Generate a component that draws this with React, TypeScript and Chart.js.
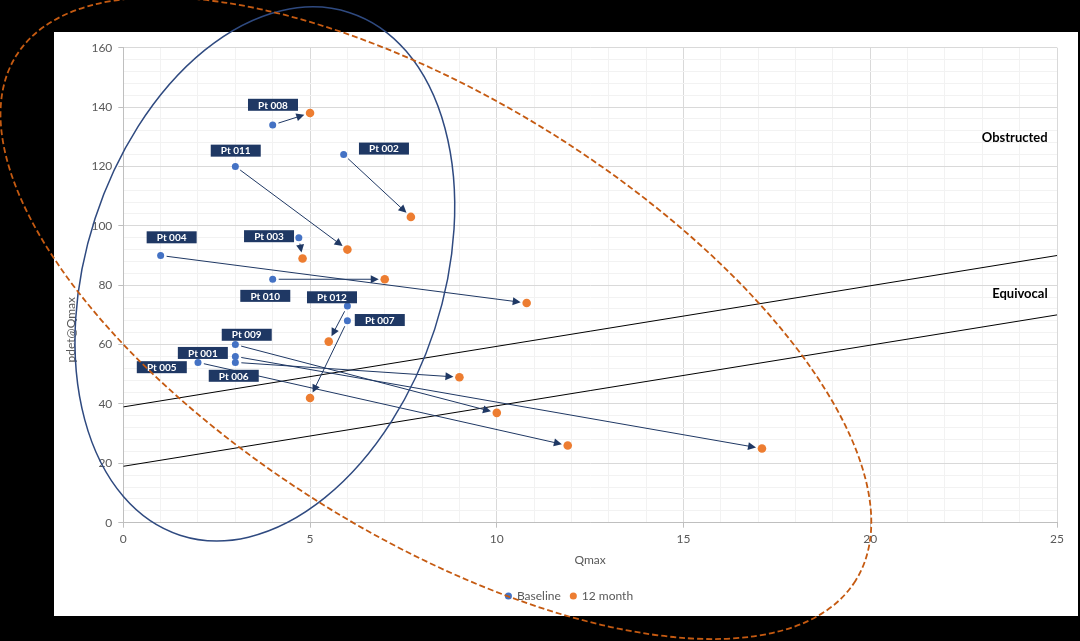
import React, { useEffect, useRef } from 'react';
import { Chart, registerables } from 'chart.js';

Chart.register(...registerables);

// ---------- data ----------
const patients = ['Pt 001', 'Pt 002', 'Pt 003', 'Pt 004', 'Pt 005', 'Pt 006', 'Pt 007', 'Pt 008', 'Pt 009', 'Pt 010', 'Pt 011', 'Pt 012'];
const baselineQmax = [3, 5.9, 4.7, 1, 2, 3, 6, 4, 3, 4, 3, 6];
const baselinePdet = [56, 124, 96, 90, 54, 54, 68, 134, 60, 82, 120, 73];
const month12Qmax = [17.1, 7.7, 4.8, 10.8, 11.9, 9, 5, 5, 10, 7, 6, 5.5];
const month12Pdet = [25, 103, 89, 74, 26, 49, 42, 138, 37, 82, 92, 61];

const obstructedLineQmax = [0, 25];
const obstructedLinePdet = [39, 90];
const equivocalLineQmax = [0, 25];
const equivocalLinePdet = [19, 70];

const zoneLabels = ['Obstructed', 'Equivocal'];
const zoneLabelQmax = [24.75, 24.75];
const zoneLabelPdet = [129.5, 77];

const seriesNames = ['Baseline', '12 month'];
const xAxisTitle = 'Qmax';
const yAxisTitle = 'pdet@Qmax';

// ---------- layout / style ----------
const W = 1080;
const H = 641;
const BLUE = '#4472C4';
const ORANGE = '#ED7D31';
const NAVY = '#1F3864';
const GREY_TEXT = '#595959';
const WHITE_RECT = { x: 54, y: 32, w: 1024, h: 584 };
// label box centre offsets (px) from each baseline point
const labelOffsets: [number, number][] = [
  [-32.5, -3.5], [40.3, -6], [-29.8, -1.5], [11, -18.2], [-36.2, 4.8], [-1.6, 13.4],
  [32.4, -0.8], [0.3, -20.1], [11.4, -9.8], [-7.4, 16.6], [0.4, -15.8], [-15.4, -8.7],
];

function drawArrow(ctx: CanvasRenderingContext2D, x1: number, y1: number, x2: number, y2: number) {
  const dx = x2 - x1;
  const dy = y2 - y1;
  const len = Math.hypot(dx, dy);
  const ux = dx / len;
  const uy = dy / len;
  const sx = x1 + ux * 6;
  const sy = y1 + uy * 6;
  const ex = x2 - ux * 6;
  const ey = y2 - uy * 6;
  const head = 8;
  const half = 4;
  const bx = ex - ux * head;
  const by = ey - uy * head;
  ctx.beginPath();
  ctx.moveTo(sx, sy);
  ctx.lineTo(bx + ux * 1, by + uy * 1);
  ctx.stroke();
  ctx.beginPath();
  ctx.moveTo(ex, ey);
  ctx.lineTo(bx - uy * half, by + ux * half);
  ctx.lineTo(bx + uy * half, by - ux * half);
  ctx.closePath();
  ctx.fill();
}

const annotationPlugin = {
  id: 'annotations',
  beforeDraw(chart: any) {
    const ctx = chart.ctx as CanvasRenderingContext2D;
    ctx.save();
    ctx.fillStyle = '#000000';
    ctx.fillRect(0, 0, W, H);
    ctx.fillStyle = '#FFFFFF';
    ctx.fillRect(WHITE_RECT.x, WHITE_RECT.y, WHITE_RECT.w, WHITE_RECT.h);
    ctx.restore();
  },
  afterLayout(chart: any) {
    if (chart.legend) {
      chart.legend.left += 14;
      chart.legend.right += 14;
    }
  },
  afterDatasetsDraw(chart: any) {
    const ctx = chart.ctx as CanvasRenderingContext2D;
    const xs = chart.scales.x;
    const ys = chart.scales.y;
    ctx.save();
    // arrows
    ctx.strokeStyle = NAVY;
    ctx.fillStyle = NAVY;
    ctx.lineWidth = 1;
    for (let i = 0; i < patients.length; i++) {
      drawArrow(
        ctx,
        xs.getPixelForValue(baselineQmax[i]), ys.getPixelForValue(baselinePdet[i]),
        xs.getPixelForValue(month12Qmax[i]), ys.getPixelForValue(month12Pdet[i]),
      );
    }
    // patient labels
    ctx.font = 'bold 10px Lato';
    ctx.textAlign = 'center';
    ctx.textBaseline = 'middle';
    for (let i = 0; i < patients.length; i++) {
      const cx = xs.getPixelForValue(baselineQmax[i]) + labelOffsets[i][0];
      const cy = ys.getPixelForValue(baselinePdet[i]) + labelOffsets[i][1];
      ctx.fillStyle = NAVY;
      ctx.fillRect(cx - 25, cy - 6, 50, 12);
      ctx.fillStyle = '#FFFFFF';
      ctx.fillText(patients[i], cx, cy + 0.5);
    }
    // zone labels
    ctx.font = 'bold 13px Lato';
    ctx.fillStyle = '#000000';
    ctx.textAlign = 'right';
    for (let i = 0; i < zoneLabels.length; i++) {
      ctx.fillText(zoneLabels[i], xs.getPixelForValue(zoneLabelQmax[i]), ys.getPixelForValue(zoneLabelPdet[i]));
    }
    ctx.restore();
  },
  afterDraw(chart: any) {
    const ctx = chart.ctx as CanvasRenderingContext2D;
    const xs = chart.scales.x;
    const ys = chart.scales.y;
    ctx.save();
    // y axis title
    ctx.font = '12px Lato';
    ctx.fillStyle = GREY_TEXT;
    ctx.textAlign = 'center';
    ctx.textBaseline = 'middle';
    ctx.translate(chart.chartArea.left - 52.3, ys.getPixelForValue(65));
    ctx.rotate(-Math.PI / 2);
    ctx.fillText(yAxisTitle, 0, 0);
    ctx.restore();

    ctx.save();
    // blue ellipse
    ctx.strokeStyle = '#2F4A80';
    ctx.lineWidth = 1.5;
    ctx.beginPath();
    ctx.ellipse(xs.getPixelForValue(3.79), ys.getPixelForValue(83.8), 178.6, 274.7, (18 * Math.PI) / 180, 0, Math.PI * 2);
    ctx.stroke();
    // orange dashed ellipse
    ctx.strokeStyle = '#C55A11';
    ctx.lineWidth = 1.8;
    ctx.setLineDash([6, 3]);
    ctx.beginPath();
    ctx.ellipse(xs.getPixelForValue(8.37), ys.getPixelForValue(68.9), 495, 218, (32 * Math.PI) / 180, 0, Math.PI * 2);
    ctx.stroke();
    ctx.restore();
  },
};

export default function App() {
  const ref = useRef<HTMLCanvasElement>(null);

  useEffect(() => {
    const canvas = ref.current;
    if (!canvas) return;
    Chart.defaults.font.family = 'Lato';
    const chart = new Chart(canvas, {
      type: 'scatter',
      data: {
        datasets: [
          {
            label: seriesNames[0],
            data: baselineQmax.map((x, i) => ({ x, y: baselinePdet[i] })),
            backgroundColor: BLUE,
            borderColor: BLUE,
            pointRadius: 3.5,
            pointBorderWidth: 0,
            order: 1,
          },
          {
            label: seriesNames[1],
            data: month12Qmax.map((x, i) => ({ x, y: month12Pdet[i] })),
            backgroundColor: ORANGE,
            borderColor: ORANGE,
            pointRadius: 4.3,
            pointBorderWidth: 0,
            order: 0,
          },
          {
            label: 'Obstructed boundary',
            data: obstructedLineQmax.map((x, i) => ({ x, y: obstructedLinePdet[i] })),
            showLine: true,
            borderColor: '#000000',
            borderWidth: 1,
            pointRadius: 0,
            order: 3,
          },
          {
            label: 'Equivocal boundary',
            data: equivocalLineQmax.map((x, i) => ({ x, y: equivocalLinePdet[i] })),
            showLine: true,
            borderColor: '#000000',
            borderWidth: 1,
            pointRadius: 0,
            order: 3,
          },
        ],
      },
      options: {
        responsive: false,
        animation: false,
        events: [],
        layout: { padding: { left: 54, right: 23, top: 47.7, bottom: 29 } },
        plugins: {
          tooltip: { enabled: false },
          legend: {
            position: 'bottom',
            labels: {
              usePointStyle: true,
              pointStyle: 'circle',
              boxHeight: 5,
              boxWidth: 5,
              padding: 10,
              color: GREY_TEXT,
              font: { size: 12 },
              filter: (item: any) => item.datasetIndex < 2,
              sort: (a: any, b: any) => a.datasetIndex - b.datasetIndex,
            },
          },
        },
        scales: {
          x: {
            type: 'linear',
            min: 0,
            max: 25,
            ticks: {
              stepSize: 1,
              autoSkip: false,
              maxRotation: 0,
              color: GREY_TEXT,
              font: { size: 12 },
              padding: 4,
              callback: (v: any) => (Number(v) % 5 === 0 ? String(v) : ''),
            },
            grid: {
              color: (c: any) => (c.tick && c.tick.value % 5 === 0 ? '#D9D9D9' : '#F2F2F2'),
              tickColor: (c: any) => (c.tick && c.tick.value % 5 === 0 ? '#BFBFBF' : 'rgba(0,0,0,0)'),
              tickLength: 5,
            },
            border: { color: '#BFBFBF', width: 1 },
            title: {
              display: true,
              text: xAxisTitle,
              color: GREY_TEXT,
              font: { size: 12 },
              padding: { top: 0, bottom: 12.8 },
            },
            afterFit: (s: any) => {
              s.height = 57.3;
            },
          },
          y: {
            type: 'linear',
            min: 0,
            max: 160,
            ticks: {
              stepSize: 4,
              autoSkip: false,
              color: GREY_TEXT,
              font: { size: 12 },
              padding: 6,
              callback: (v: any) => (Number(v) % 20 === 0 ? String(v) : ''),
            },
            grid: {
              color: (c: any) => (c.tick && c.tick.value % 20 === 0 ? '#D9D9D9' : '#F2F2F2'),
              tickColor: (c: any) => (c.tick && c.tick.value % 20 === 0 ? '#BFBFBF' : 'rgba(0,0,0,0)'),
              tickLength: 5,
            },
            border: { color: '#BFBFBF', width: 1 },
            title: { display: false },
            afterFit: (s: any) => {
              s.width = 69.3;
            },
          },
        },
      },
      plugins: [annotationPlugin],
    } as any);
    return () => chart.destroy();
  }, []);

  return (
    <div style={{ position: 'fixed', left: 0, top: 0, width: W, height: H, background: '#000' }}>
      <canvas ref={ref} width={W} height={H} style={{ display: 'block' }} />
    </div>
  );
}
